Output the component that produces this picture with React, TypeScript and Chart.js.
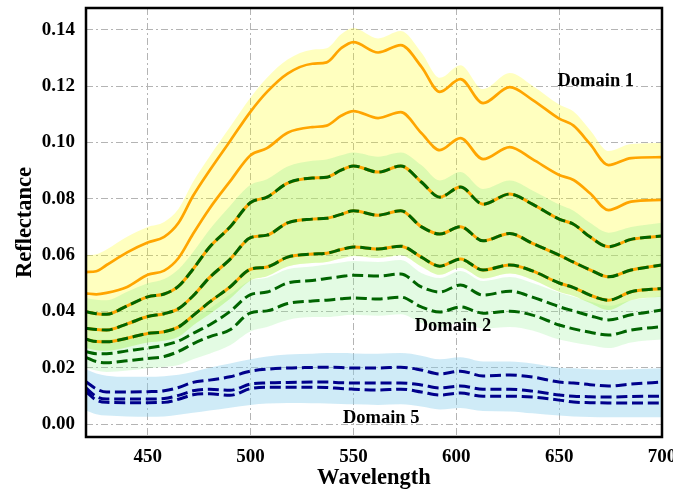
import React, { useEffect, useRef } from 'react';
import { Chart, registerables } from 'chart.js';

Chart.register(...registerables);

// Wavelength samples (nm)
const wavelengths = [420, 425, 430, 440, 450, 458, 465, 472, 480, 490, 500, 508, 518, 530, 537, 544, 550, 562, 573, 583, 592, 602, 613, 626, 637, 650, 657, 665, 674, 685, 700];

// Domain 1 (orange solid)
const domain1A = [0.054, 0.0543, 0.0565, 0.061, 0.0645, 0.0665, 0.0715, 0.081, 0.090, 0.1005, 0.111, 0.118, 0.1245, 0.128, 0.1285, 0.1335, 0.1357, 0.132, 0.1346, 0.127, 0.118, 0.1225, 0.114, 0.1197, 0.1152, 0.1085, 0.106, 0.0995, 0.092, 0.0945, 0.0948];
const domain1B = [0.0464, 0.0461, 0.0466, 0.0487, 0.053, 0.0545, 0.059, 0.0675, 0.0765, 0.0862, 0.0955, 0.098, 0.1035, 0.1055, 0.106, 0.1095, 0.1112, 0.1087, 0.1108, 0.1034, 0.0973, 0.1016, 0.0941, 0.0984, 0.0941, 0.0885, 0.0867, 0.082, 0.076, 0.079, 0.0796];

// Mixed (green dashed over orange)
const mixedA = [0.0399, 0.0392, 0.039, 0.042, 0.0452, 0.0462, 0.049, 0.055, 0.0628, 0.070, 0.0787, 0.0806, 0.0856, 0.0874, 0.0877, 0.0902, 0.0917, 0.0895, 0.0917, 0.086, 0.0806, 0.0842, 0.0781, 0.0817, 0.0781, 0.0728, 0.071, 0.0665, 0.063, 0.0656, 0.0668];
const mixedB = [0.034, 0.0336, 0.0334, 0.0356, 0.0382, 0.0392, 0.041, 0.0455, 0.052, 0.0585, 0.0662, 0.0671, 0.0715, 0.0728, 0.0731, 0.0745, 0.0758, 0.0742, 0.0758, 0.0701, 0.0675, 0.0701, 0.0651, 0.0677, 0.0642, 0.060, 0.0575, 0.0548, 0.0523, 0.0547, 0.0565];
const mixedC = [0.0301, 0.0293, 0.0292, 0.0305, 0.0322, 0.0328, 0.0345, 0.0385, 0.0433, 0.0487, 0.055, 0.0558, 0.0593, 0.0604, 0.0607, 0.062, 0.0629, 0.0622, 0.0632, 0.0593, 0.0561, 0.0586, 0.0547, 0.0565, 0.0544, 0.0501, 0.0485, 0.0458, 0.044, 0.047, 0.0482];

// Domain 2 (green dashed)
const domain2A = [0.0257, 0.025, 0.025, 0.026, 0.027, 0.028, 0.0295, 0.0322, 0.0352, 0.040, 0.046, 0.0469, 0.0501, 0.051, 0.0517, 0.0524, 0.0529, 0.0526, 0.0533, 0.0487, 0.0469, 0.0494, 0.0458, 0.0472, 0.0451, 0.0417, 0.0402, 0.0385, 0.037, 0.0388, 0.0405];
const domain2B = [0.0237, 0.0222, 0.0218, 0.0225, 0.0233, 0.024, 0.0258, 0.0285, 0.031, 0.0335, 0.0395, 0.0402, 0.0428, 0.0437, 0.044, 0.0445, 0.0448, 0.0444, 0.0451, 0.0416, 0.0398, 0.0416, 0.0394, 0.0401, 0.0387, 0.0352, 0.0338, 0.0326, 0.0316, 0.0334, 0.0346];

// Domain 5 (navy dashed)
const domain5A = [0.015, 0.0125, 0.0114, 0.0114, 0.0115, 0.0118, 0.013, 0.0148, 0.0156, 0.0168, 0.0188, 0.0195, 0.0199, 0.0201, 0.0202, 0.0201, 0.0199, 0.0199, 0.0202, 0.0192, 0.0178, 0.0188, 0.0171, 0.0174, 0.0167, 0.0149, 0.0146, 0.014, 0.0135, 0.0142, 0.0149];
const domain5B = [0.0128, 0.0098, 0.0089, 0.0089, 0.0089, 0.0091, 0.0102, 0.0118, 0.0124, 0.012, 0.0142, 0.0146, 0.0148, 0.0149, 0.0149, 0.0147, 0.0146, 0.0146, 0.0146, 0.0139, 0.0128, 0.0135, 0.0124, 0.0124, 0.0117, 0.0103, 0.0099, 0.0097, 0.0096, 0.0098, 0.0099];
const domain5C = [0.0115, 0.0085, 0.0077, 0.0076, 0.0076, 0.0077, 0.0088, 0.0104, 0.0108, 0.0102, 0.0126, 0.0131, 0.0131, 0.0131, 0.013, 0.0126, 0.0124, 0.0121, 0.0124, 0.0114, 0.0103, 0.011, 0.0099, 0.0099, 0.0096, 0.0085, 0.0078, 0.0076, 0.0075, 0.0075, 0.0075];

// Shaded bands (upper / lower bounds)
const band1Upper = [0.060, 0.0603, 0.062, 0.0665, 0.070, 0.0718, 0.0765, 0.086, 0.095, 0.1055, 0.116, 0.123, 0.1295, 0.133, 0.1335, 0.1385, 0.1407, 0.137, 0.1396, 0.132, 0.123, 0.1275, 0.119, 0.1247, 0.1202, 0.1135, 0.111, 0.1045, 0.097, 0.0995, 0.0998];
const bandMixUpper = [0.0448, 0.0442, 0.044, 0.047, 0.050, 0.0515, 0.055, 0.061, 0.069, 0.0775, 0.085, 0.087, 0.0915, 0.0935, 0.094, 0.0955, 0.0965, 0.095, 0.0965, 0.092, 0.0865, 0.0895, 0.0835, 0.0865, 0.083, 0.078, 0.0758, 0.0715, 0.068, 0.070, 0.0715];
const bandMixLower = [0.027, 0.0262, 0.026, 0.0273, 0.029, 0.0296, 0.031, 0.035, 0.039, 0.0445, 0.051, 0.0525, 0.056, 0.0572, 0.0576, 0.0588, 0.0597, 0.059, 0.060, 0.056, 0.053, 0.0555, 0.0517, 0.0535, 0.0513, 0.047, 0.0455, 0.043, 0.0405, 0.044, 0.0452];
const band2Upper = [0.0307, 0.030, 0.030, 0.031, 0.032, 0.033, 0.0348, 0.0378, 0.041, 0.046, 0.051, 0.052, 0.055, 0.056, 0.0567, 0.0574, 0.0579, 0.0576, 0.0583, 0.0537, 0.0519, 0.0544, 0.0508, 0.0522, 0.0501, 0.0467, 0.0452, 0.0435, 0.042, 0.044, 0.0455];
const band2Lower = [0.020, 0.019, 0.0185, 0.019, 0.0198, 0.0203, 0.021, 0.023, 0.025, 0.028, 0.033, 0.0345, 0.037, 0.038, 0.038, 0.0385, 0.0388, 0.0385, 0.039, 0.036, 0.0345, 0.036, 0.034, 0.0345, 0.0332, 0.030, 0.029, 0.028, 0.027, 0.029, 0.030];
const band5Upper = [0.0195, 0.018, 0.0172, 0.0168, 0.0168, 0.017, 0.0175, 0.0185, 0.020, 0.0215, 0.023, 0.024, 0.0247, 0.025, 0.0252, 0.0252, 0.0251, 0.025, 0.0252, 0.0243, 0.023, 0.0237, 0.0222, 0.0222, 0.0215, 0.020, 0.0198, 0.0195, 0.0192, 0.0195, 0.0198];
const band5Lower = [0.0048, 0.0035, 0.003, 0.0027, 0.0026, 0.0027, 0.0033, 0.004, 0.0048, 0.0058, 0.0068, 0.0073, 0.0075, 0.0074, 0.0073, 0.0071, 0.007, 0.0068, 0.007, 0.0062, 0.0052, 0.0057, 0.0046, 0.0045, 0.0038, 0.003, 0.0027, 0.0025, 0.0024, 0.0024, 0.0024];

// Axis ticks
const xTicks = [450, 500, 550, 600, 650, 700];
const yTicks = [0, 0.02, 0.04, 0.06, 0.08, 0.1, 0.12, 0.14];

// Text annotations
const domainLabels = ['Domain 1', 'Domain 2', 'Domain 5'];
const domainLabelX = [667.8, 598.4, 563.5];
const domainLabelY = [0.1218, 0.0348, 0.0021];

const SERIF = '"Liberation Serif", "Times New Roman", serif';
const ORANGE = '#ffa500';
const DGREEN = '#006400';
const NAVY = '#00008b';

const pts = (arr: number[]) => wavelengths.map((w, i) => ({ x: w, y: arr[i] }));

const line = (arr: number[], color: string, width: number, dash: number[] = []) => ({
  data: pts(arr),
  borderColor: color,
  borderWidth: width,
  borderDash: dash,
  pointRadius: 0,
  fill: false,
  cubicInterpolationMode: 'monotone' as const,
  borderCapStyle: 'butt' as const,
});

const band = (arr: number[], fillColor: string | null, target: number | false) => ({
  data: pts(arr),
  borderColor: 'rgba(0,0,0,0)',
  borderWidth: 0,
  pointRadius: 0,
  backgroundColor: fillColor || 'rgba(0,0,0,0)',
  fill: target === false ? false : { target },
  cubicInterpolationMode: 'monotone' as const,
});

const framePlugin = {
  id: 'frame',
  afterDraw(chart: any) {
    const { ctx, chartArea } = chart;
    ctx.save();
    ctx.strokeStyle = '#000';
    ctx.lineWidth = 2.5;
    ctx.strokeRect(chartArea.left, chartArea.top, chartArea.right - chartArea.left, chartArea.bottom - chartArea.top);
    ctx.restore();
  },
};

const labelPlugin = {
  id: 'domainLabels',
  afterDatasetsDraw(chart: any) {
    const { ctx } = chart;
    const x = chart.scales.x;
    const y = chart.scales.y;
    ctx.save();
    ctx.font = 'bold 18.5px ' + SERIF;
    ctx.fillStyle = '#000';
    ctx.textAlign = 'center';
    ctx.textBaseline = 'middle';
    domainLabels.forEach((t, i) => {
      ctx.fillText(t, x.getPixelForValue(domainLabelX[i]), y.getPixelForValue(domainLabelY[i]));
    });
    ctx.restore();
  },
};

export default function App() {
  const ref = useRef<HTMLCanvasElement>(null);
  useEffect(() => {
    if (!ref.current) return;
    const dash = [11, 4.8];
    const datasets: any[] = [
      line(domain5A, NAVY, 3, dash), // 0
      line(domain5B, NAVY, 3, dash), // 1
      line(domain5C, NAVY, 3, dash), // 2
      line(domain2A, DGREEN, 3, dash), // 3
      line(domain2B, DGREEN, 3, dash), // 4
      line(mixedA, DGREEN, 3, dash), // 5
      line(mixedB, DGREEN, 3, dash), // 6
      line(mixedC, DGREEN, 3, dash), // 7
      line(mixedA, ORANGE, 3), // 8
      line(mixedB, ORANGE, 3), // 9
      line(mixedC, ORANGE, 3), // 10
      line(domain1A, ORANGE, 2.7), // 11
      line(domain1B, ORANGE, 2.7), // 12
      band(band5Upper, 'rgba(135,206,235,0.4)', 14), // 13
      band(band5Lower, null, false), // 14
      band(bandMixUpper, 'rgba(144,238,144,0.3)', 16), // 15
      band(bandMixLower, null, false), // 16
      band(band2Upper, 'rgba(144,238,144,0.25)', 18), // 17
      band(band2Lower, null, false), // 18
      band(band1Upper, 'rgba(255,255,0,0.25)', 16), // 19
    ];
    const chart = new Chart(ref.current, {
      type: 'line',
      data: { datasets },
      options: {
        animation: false,
        responsive: false,
        devicePixelRatio: 1,
        events: [],
        layout: { padding: { top: 8, right: 11, left: 0, bottom: 0 } },
        plugins: { legend: { display: false }, tooltip: { enabled: false } },
        scales: {
          x: {
            type: 'linear',
            min: 420,
            max: 700,
            afterBuildTicks: (s: any) => { s.ticks = xTicks.map((v) => ({ value: v })); },
            afterFit: (s: any) => {
              s.height = 55;
              s.paddingLeft = 0;
              s.paddingRight = 0;
              s.paddingTop = 0;
              s.paddingBottom = 0;
            },
            grid: { color: '#b4b4b4', lineWidth: 1, drawTicks: false },
            border: { display: false, dash: [7, 3, 2, 3] },
            ticks: {
              color: '#000',
              padding: 9,
              maxRotation: 0,
              font: { family: SERIF, size: 19, weight: 'bold' },
              callback: (v: any) => String(v),
            },
            title: {
              display: true,
              text: 'Wavelength',
              color: '#000',
              font: { family: SERIF, size: 22.5, weight: 'bold' },
              padding: { top: 0, bottom: 0 },
            },
          },
          y: {
            type: 'linear',
            min: -0.0046,
            max: 0.1478,
            afterBuildTicks: (s: any) => { s.ticks = yTicks.map((v) => ({ value: v })); },
            afterFit: (s: any) => {
              s.width = 86;
              s.paddingLeft = 0;
              s.paddingRight = 0;
              s.paddingTop = 0;
              s.paddingBottom = 0;
            },
            grid: { color: '#b4b4b4', lineWidth: 1, drawTicks: false },
            border: { display: false, dash: [7, 3, 2, 3] },
            ticks: {
              color: '#000',
              padding: 11,
              font: { family: SERIF, size: 19, weight: 'bold' },
              callback: (v: any) => Number(v).toFixed(2),
            },
            title: {
              display: true,
              text: 'Reflectance',
              color: '#000',
              font: { family: SERIF, size: 22.5, weight: 'bold' },
              padding: { top: 12, bottom: 0 },
            },
          },
        },
      },
      plugins: [framePlugin, labelPlugin],
    });
    return () => chart.destroy();
  }, []);
  return (
    <div style={{ position: 'absolute', left: 0, top: 0, width: 673, height: 492, background: '#fff' }}>
      <canvas ref={ref} width={673} height={492} style={{ display: 'block' }} />
    </div>
  );
}
